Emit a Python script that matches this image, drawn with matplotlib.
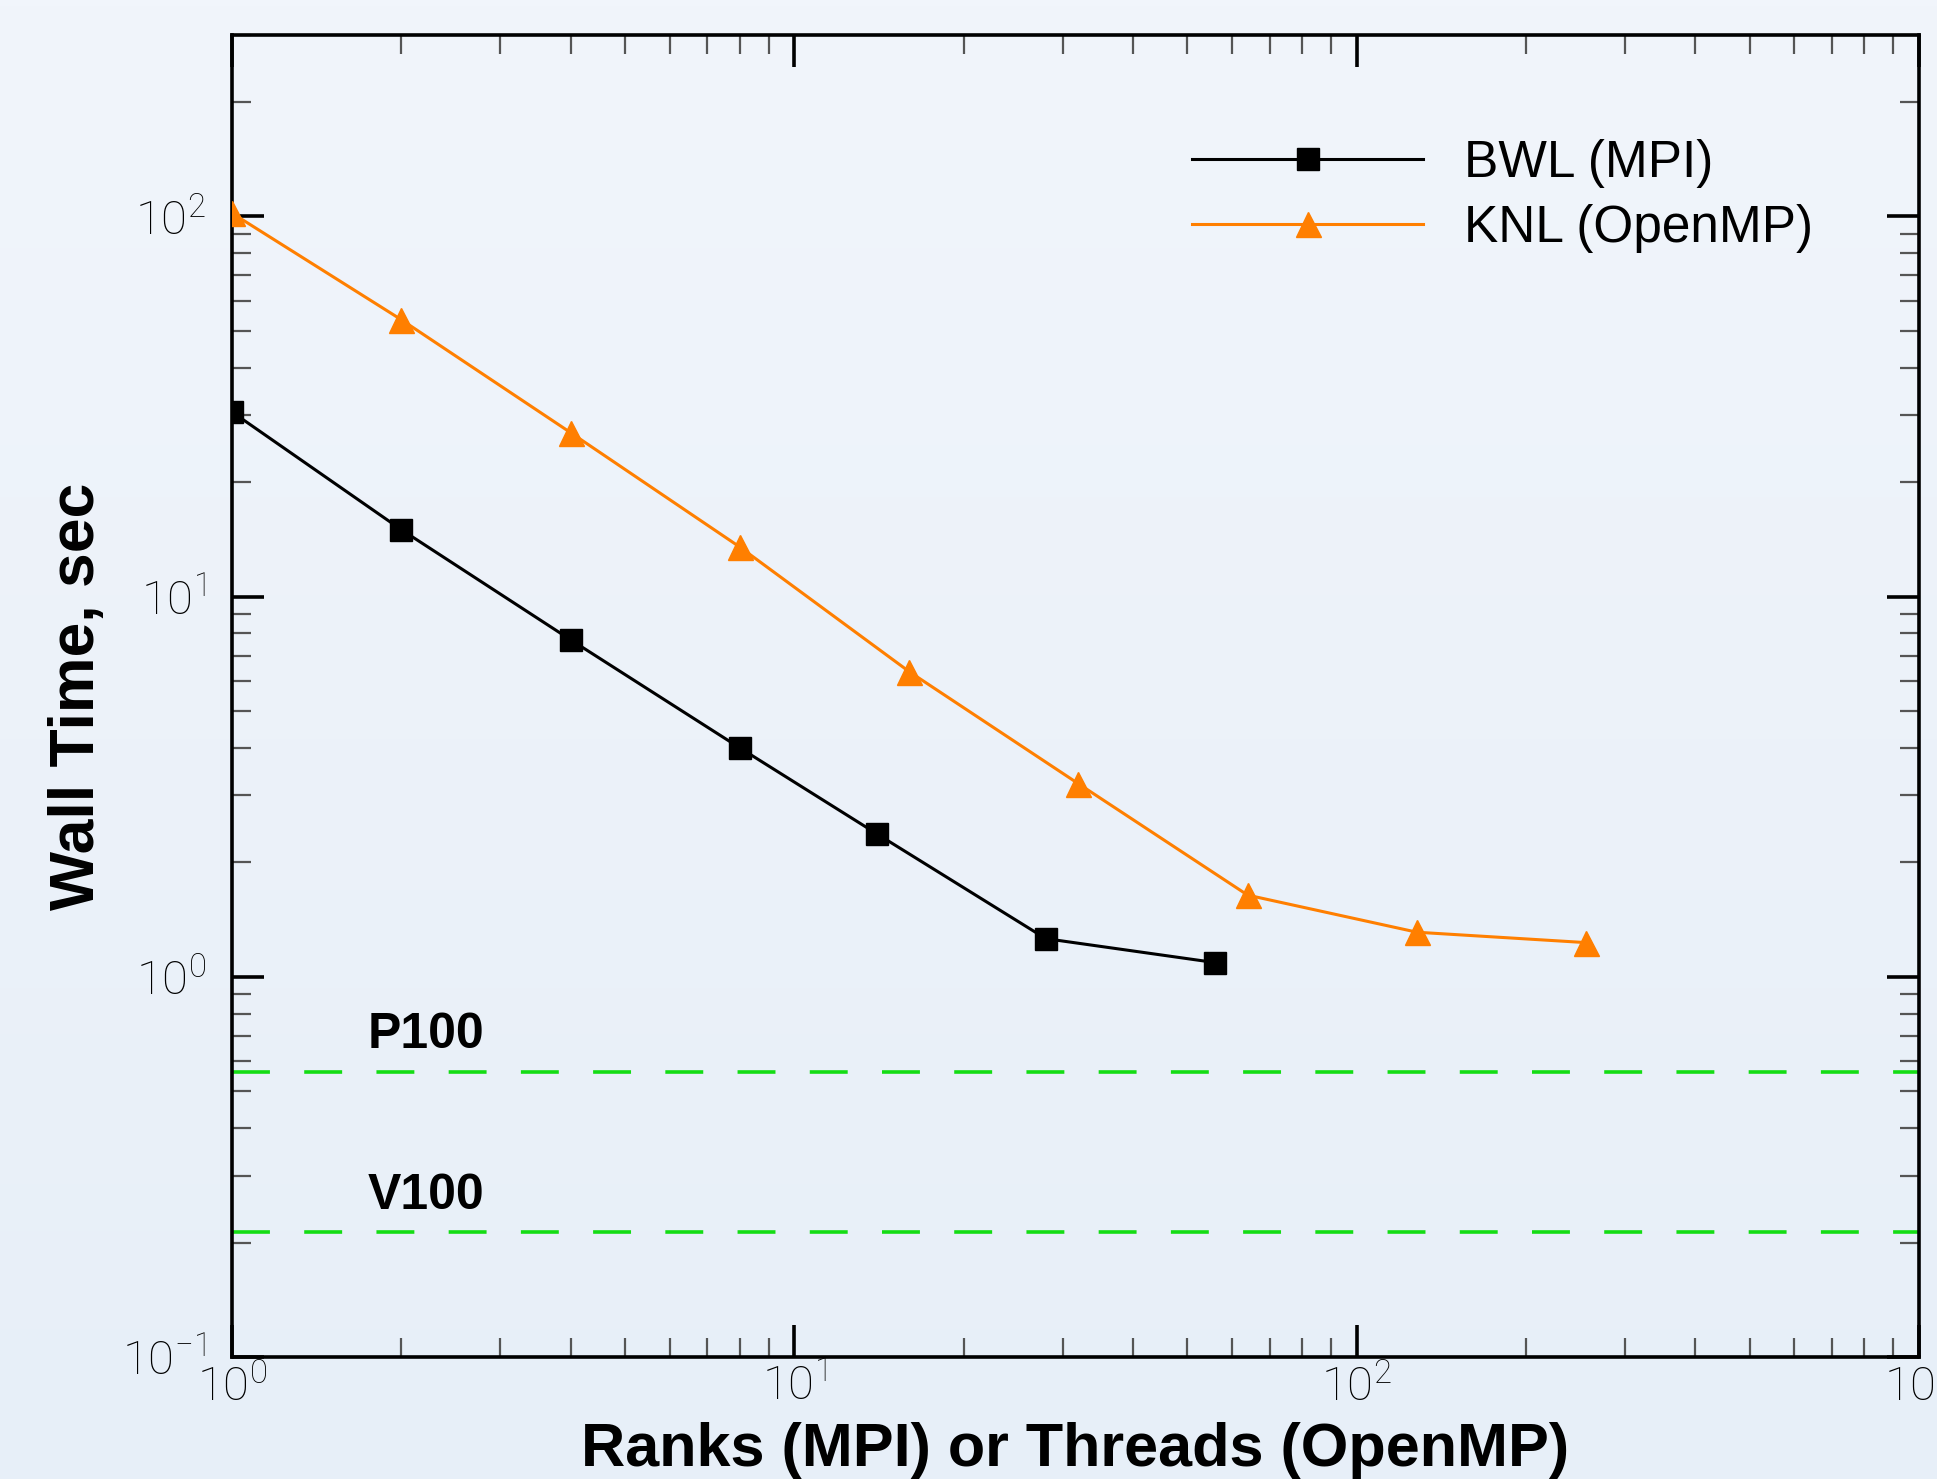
import numpy as np
import matplotlib
matplotlib.use("Agg")
import matplotlib.pyplot as plt

plt.rcParams["font.family"] = ["Roboto", "DejaVu Sans"]
plt.rcParams["font.weight"] = "light"

# data
bwl_x = [1, 2, 4, 8, 14, 28, 56]
bwl_y = [30.6, 15.0, 7.7, 4.0, 2.38, 1.26, 1.09]
knl_x = [1, 2, 4, 8, 16, 32, 64, 128, 256]
knl_y = [102, 53.5, 27.0, 13.5, 6.35, 3.22, 1.64, 1.31, 1.23]
gpu_names = ["P100", "V100"]
gpu_times = [0.562, 0.213]
series_labels = ["BWL (MPI)", "KNL (OpenMP)"]

BG_TOP = "#f1f5fb"
BG_BOT = "#e7eff8"
ORANGE = "#ff7f00"
GREEN = "#14dd14"
BOLD = dict(family=["Liberation Sans", "DejaVu Sans"], weight="bold")

fig = plt.figure(figsize=(19.37, 14.79), dpi=100)

# light blue vertical gradient background
bg = fig.add_axes([0, 0, 1, 1], zorder=-10)
grad = np.linspace(0, 1, 256)[:, None]
cmap = matplotlib.colors.LinearSegmentedColormap.from_list("bg", [BG_TOP, BG_BOT])
bg.imshow(grad, aspect="auto", cmap=cmap, extent=[0, 1, 0, 1])
bg.axis("off")

ax = fig.add_axes([0.1198, 0.0825, 0.8709, 0.8938])
ax.set_facecolor("none")
ax.set_xscale("log")
ax.set_yscale("log")
ax.set_xlim(1, 1000)
ax.set_ylim(0.1, 300)

ax.plot(bwl_x, bwl_y, color="black", lw=2.2, marker="s", ms=15.5,
        mfc="black", mec="black", label=series_labels[0], zorder=3)
ax.plot(knl_x, knl_y, color=ORANGE, lw=2.2, marker="^", ms=18,
        mfc=ORANGE, mec=ORANGE, label=series_labels[1], zorder=3)

for name, t in zip(gpu_names, gpu_times):
    ax.axhline(t, color=GREEN, lw=2.6, ls=(0, (10.5, 9.5)), zorder=2)
    ax.annotate(name, xy=(1.74, t), xytext=(0, 17), textcoords="offset points",
                ha="left", va="baseline", fontsize=36, color="black", **BOLD)

for s in ax.spines.values():
    s.set_linewidth(2.6)
    s.set_color("black")

ax.tick_params(which="both", direction="in", top=True, right=True)
ax.tick_params(which="major", length=23, width=2.6, color="black",
               labelsize=34, labelcolor="black")
ax.tick_params(which="minor", length=14, width=1.6, color="#555555")
ax.tick_params(axis="y", which="major", pad=19)
ax.tick_params(axis="x", which="major", pad=5)

ax.set_xlabel("Ranks (MPI) or Threads (OpenMP)", fontsize=44, **BOLD)
ax.set_ylabel("Wall Time, sec", fontsize=45, **BOLD)
ax.xaxis.set_label_coords(0.5, -0.049)
ax.yaxis.set_label_coords(-0.074, 0.5)

leg = ax.legend(loc="upper left", bbox_to_anchor=(0.569, 0.921), frameon=False,
                borderaxespad=0, borderpad=0, handlelength=4.5, handletextpad=0.8,
                labelspacing=0.3, numpoints=1,
                prop=dict(family=["Liberation Sans", "DejaVu Sans"], weight="normal", size=37))

fig.savefig("out.png", dpi=100)
